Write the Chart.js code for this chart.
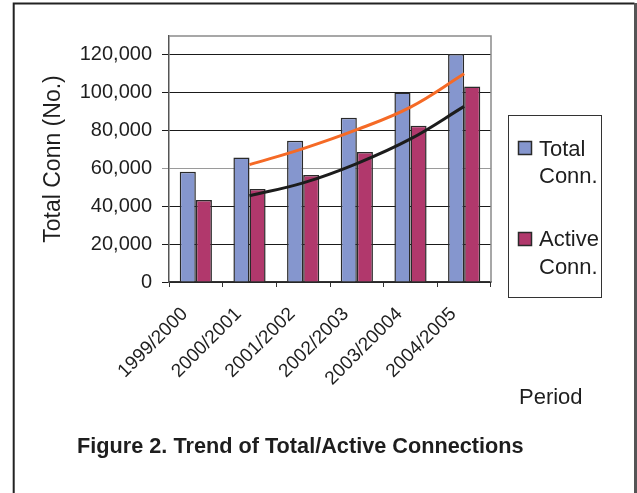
<!DOCTYPE html>
<html>
<head>
<meta charset="utf-8">
<script src="https://cdn.jsdelivr.net/npm/chart.js@4/dist/chart.umd.min.js"></script>
<style>
  html, body { margin: 0; padding: 0; background: #fff; }
  #wrap { width: 637px; height: 493px; position: relative; }
</style>
</head>
<body>
<div id="wrap"><canvas id="c" width="637" height="493"></canvas></div>
<script>
const categories = ['1999/2000', '2000/2001', '2001/2002', '2002/2003', '2003/20004', '2004/2005'];
const totalConn = [58200, 65800, 74700, 86800, 100200, 120500];
const activeConn = [43300, 49100, 56500, 68700, 82600, 103300];
const totalTrend = [null, 62000, 70500, 80500, 92400, 110000];
const activeTrend = [null, 45600, 52400, 62600, 75600, 92800];
const yTicks = [0, 20000, 40000, 60000, 80000, 100000, 120000];
const seriesNames = ['Total', 'Conn.', 'Active', 'Conn.'];

const FONT = '"Liberation Sans", Arial, Helvetica, sans-serif';
const BLUE = '#8596CE';
const PLUM = '#B1386C';
const EDGE = '#2a2a2a';

const decor = {
  id: 'decor',
  beforeDraw(chart) {
    const ctx = chart.ctx;
    ctx.save();
    ctx.fillStyle = '#fff';
    ctx.fillRect(0, 0, chart.width, chart.height);
    ctx.strokeStyle = '#222';
    ctx.lineWidth = 2;
    ctx.beginPath();
    ctx.moveTo(13.7, 500);
    ctx.lineTo(13.7, 3.5);
    ctx.lineTo(634.5, 3.5);
    ctx.stroke();
    ctx.strokeStyle = '#555';
    ctx.lineWidth = 3;
    ctx.beginPath();
    ctx.moveTo(635.5, 3);
    ctx.lineTo(635.5, 500);
    ctx.stroke();
    ctx.restore();
  },
  beforeDatasetsDraw(chart) {
    const {ctx, chartArea: a} = chart;
    ctx.save();
    ctx.strokeStyle = '#8a8a8a';
    ctx.lineWidth = 1.5;
    ctx.beginPath();
    ctx.moveTo(a.left, a.top);
    ctx.lineTo(a.right, a.top);
    ctx.lineTo(a.right, a.bottom);
    ctx.stroke();
    ctx.restore();
  },
  afterDraw(chart) {
    const ctx = chart.ctx;
    ctx.save();
    ctx.strokeStyle = '#333';
    ctx.lineWidth = 1;
    ctx.strokeRect(508.5, 115.5, 93, 182);
    ctx.fillStyle = BLUE;
    ctx.fillRect(518.5, 141.5, 13, 13);
    ctx.strokeStyle = EDGE;
    ctx.lineWidth = 1.5;
    ctx.strokeRect(518.5, 141.5, 13, 13);
    ctx.fillStyle = PLUM;
    ctx.fillRect(518.5, 232.5, 13, 13);
    ctx.strokeRect(518.5, 232.5, 13, 13);
    ctx.fillStyle = '#1e1e1e';
    ctx.font = '22px ' + FONT;
    ctx.textAlign = 'left';
    ctx.textBaseline = 'alphabetic';
    ctx.fillText(seriesNames[0], 539, 156);
    ctx.fillText(seriesNames[1], 539, 182.5);
    ctx.fillText(seriesNames[2], 539, 246);
    ctx.fillText(seriesNames[3], 539, 274);
    ctx.fillText('Period', 519, 403.5);
    ctx.font = 'bold 21.7px ' + FONT;
    ctx.fillText('Figure 2. Trend of Total/Active Connections', 77, 453);
    ctx.restore();
  }
};

new Chart(document.getElementById('c'), {
  type: 'bar',
  data: {
    labels: categories,
    datasets: [
      {
        type: 'line', label: 'Total trend', data: totalTrend,
        borderColor: '#F56A26', borderWidth: 3, pointRadius: 0, tension: 0.4,
        fill: false, order: 0
      },
      {
        type: 'line', label: 'Active trend', data: activeTrend,
        borderColor: '#1c1c1c', borderWidth: 3, pointRadius: 0, tension: 0.4,
        fill: false, order: 0
      },
      {
        label: 'Total Conn.', data: totalConn,
        backgroundColor: BLUE, borderColor: EDGE, borderWidth: 1.5,
        categoryPercentage: 0.6, barPercentage: 1.0, order: 1
      },
      {
        label: 'Active Conn.', data: activeConn,
        backgroundColor: PLUM, borderColor: EDGE, borderWidth: 1.5,
        categoryPercentage: 0.6, barPercentage: 1.0, order: 1
      }
    ]
  },
  options: {
    responsive: false,
    animation: false,
    devicePixelRatio: 1,
    layout: { padding: { top: 36, right: 146, left: 0, bottom: 0 } },
    plugins: { legend: { display: false }, tooltip: { enabled: false }, title: { display: false } },
    scales: {
      x: {
        offset: true,
        grid: { offset: true, drawOnChartArea: false, drawTicks: true, tickLength: 5, color: '#333', lineWidth: 1 },
        border: { display: true, color: '#333', width: 1.5 },
        ticks: {
          minRotation: 45, maxRotation: 45, autoSkip: false, padding: 16, labelOffset: -11,
          color: '#1e1e1e', font: { family: FONT, size: 19 }
        },
        afterFit(scale) { scale.height = 211; }
      },
      y: {
        min: 0, max: 130000,
        afterBuildTicks(scale) { scale.ticks = yTicks.map(v => ({ value: v })); },
        grid: {
          color: ctx => (ctx.tick && ctx.tick.value === 60000) ? '#9a9a9a' : '#1a1a1a',
          lineWidth: 1, tickLength: 7, drawTicks: true
        },
        border: { display: true, color: '#555', width: 1.5 },
        ticks: {
          padding: 10, color: '#1e1e1e', font: { family: FONT, size: 20 },
          callback: v => v.toLocaleString('en-US')
        },
        title: {
          display: true, text: 'Total Conn (No.)', color: '#1e1e1e',
          font: { family: FONT, size: 23 }, padding: { top: 40, bottom: 0 }
        },
        afterFit(scale) { scale.width = 169; }
      }
    }
  },
  plugins: [decor]
});
</script>
</body>
</html>
